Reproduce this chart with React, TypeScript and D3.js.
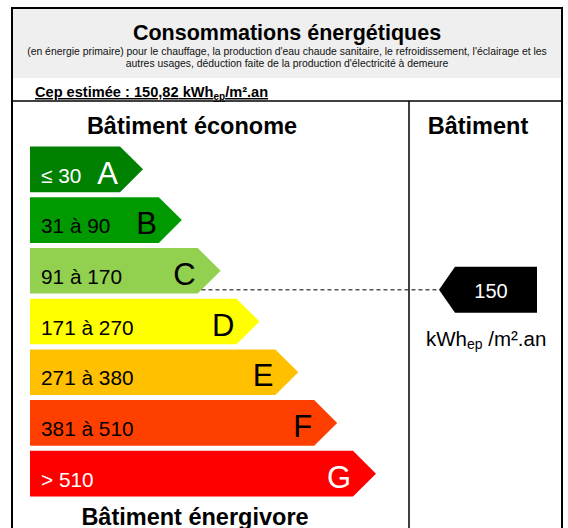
import * as d3 from "d3";
import React from "react";

const classes = ["A", "B", "C", "D", "E", "F", "G"];
const rangeLabels = ["≤ 30", "31 à 90", "91 à 170", "171 à 270", "271 à 380", "381 à 510", "> 510"];
const lowerBounds = [0, 31, 91, 171, 271, 381, 511];
const upperBounds = [30, 90, 170, 270, 380, 510, 600];
const classColors = ["#008000", "#009a00", "#92d050", "#ffff00", "#ffc000", "#ff3f00", "#ff0000"];
const labelColors = ["#fff", "#000", "#000", "#000", "#000", "#000", "#fff"];
const buildingValue = 150;
const cepText = "150,82";

const W = 568;
const H = 528;
const FONT = "'Liberation Sans', Arial, sans-serif";

const App = () => {
  const y = d3.scaleBand<string>().domain(classes).range([144, 499]).paddingInner(0.1).paddingOuter(0.05);
  const tipX = d3.scaleLinear().domain([0, classes.length - 1]).range([143, 376]);
  const barX0 = 30;
  const tipLen = 23;
  const bh = y.bandwidth();

  const arrow = (i: number) => {
    const y0 = y(classes[i]) as number;
    const tx = tipX(i);
    const p = d3.path();
    p.moveTo(barX0, y0);
    p.lineTo(tx - tipLen, y0);
    p.lineTo(tx, y0 + bh / 2);
    p.lineTo(tx - tipLen, y0 + bh);
    p.lineTo(barX0, y0 + bh);
    p.closePath();
    return p.toString();
  };

  // position of the building's value inside its class
  const ci = classes.findIndex((c, i) => buildingValue >= lowerBounds[i] && buildingValue <= upperBounds[i]);
  const cTop = y(classes[ci]) as number;
  const vy = d3
    .scaleLinear()
    .domain([lowerBounds[ci], upperBounds[ci]])
    .range([cTop + 4, cTop + y.step() + 4])(buildingValue);
  const cTip = tipX(ci);
  const edgeX = cTip - tipLen * (Math.abs(vy - (cTop + bh / 2)) / (bh / 2));

  const mTip = 439;
  const mLeft = 455;
  const mRight = 537;
  const mh = 46;
  const marker = d3.path();
  marker.moveTo(mTip, vy);
  marker.lineTo(mLeft, vy - mh / 2);
  marker.lineTo(mRight, vy - mh / 2);
  marker.lineTo(mRight, vy + mh / 2);
  marker.lineTo(mLeft, vy + mh / 2);
  marker.closePath();

  return (
    <svg width={W} height={H} style={{ position: "absolute", left: 0, top: 0 }} fontFamily={FONT}>
      <rect width={W} height={H} fill="#fff" />
      <rect x={12} y={8} width={550} height={70} fill="#efefef" />
      <rect x={12} y={8} width={550} height={540} fill="none" stroke="#000" strokeWidth={2} />
      <line x1={12} x2={562} y1={101} y2={101} stroke="#000" strokeWidth={1.5} />
      <line x1={409} x2={409} y1={101} y2={540} stroke="#000" strokeWidth={1.5} />

      <text x={287} y={40} textAnchor="middle" fontSize={21.5} fontWeight="bold">Consommations énergétiques</text>
      <text x={287} y={55} textAnchor="middle" fontSize={10.4} fill="#111">
        (en énergie primaire) pour le chauffage, la production d'eau chaude sanitaire, le refroidissement, l'éclairage et les
      </text>
      <text x={287} y={67} textAnchor="middle" fontSize={10.4} fill="#111">
        autres usages, déduction faite de la production d'électricité à demeure
      </text>

      <text x={35} y={97} fontSize={14.6} fontWeight="bold" textDecoration="underline">
        Cep estimée : {cepText} kWh<tspan fontSize={10} dy={3}>ep</tspan>
        <tspan dy={-3}>/m².an</tspan>
      </text>

      <text x={192} y={134} textAnchor="middle" fontSize={23.5} fontWeight="bold">Bâtiment économe</text>
      <text x={478} y={134} textAnchor="middle" fontSize={23.5} fontWeight="bold">Bâtiment</text>
      <text x={195} y={525} textAnchor="middle" fontSize={23.5} fontWeight="bold">Bâtiment énergivore</text>

      {classes.map((c, i) => {
        const y0 = y(c) as number;
        return (
          <g key={c}>
            <path d={arrow(i)} fill={classColors[i]} />
            <text x={41} y={y0 + 36} fontSize={20.8} fill={labelColors[i]}>{rangeLabels[i]}</text>
            <text x={tipX(i) - 25} y={y0 + 37} textAnchor="end" fontSize={31} fill={labelColors[i]}>{c}</text>
          </g>
        );
      })}

      <line x1={edgeX} x2={mTip} y1={vy} y2={vy} stroke="#000" strokeWidth={1} strokeDasharray="4,3" />
      <path d={marker.toString()} fill="#000" />
      <text x={(mLeft + mRight) / 2 - 5} y={vy + 8} textAnchor="middle" fontSize={20} fill="#fff">{buildingValue}</text>
      <text x={426} y={346} fontSize={20.5}>
        kWh<tspan fontSize={14} dy={3}>ep</tspan>
        <tspan dy={-3}> /m².an</tspan>
      </text>
    </svg>
  );
};

export default App;
